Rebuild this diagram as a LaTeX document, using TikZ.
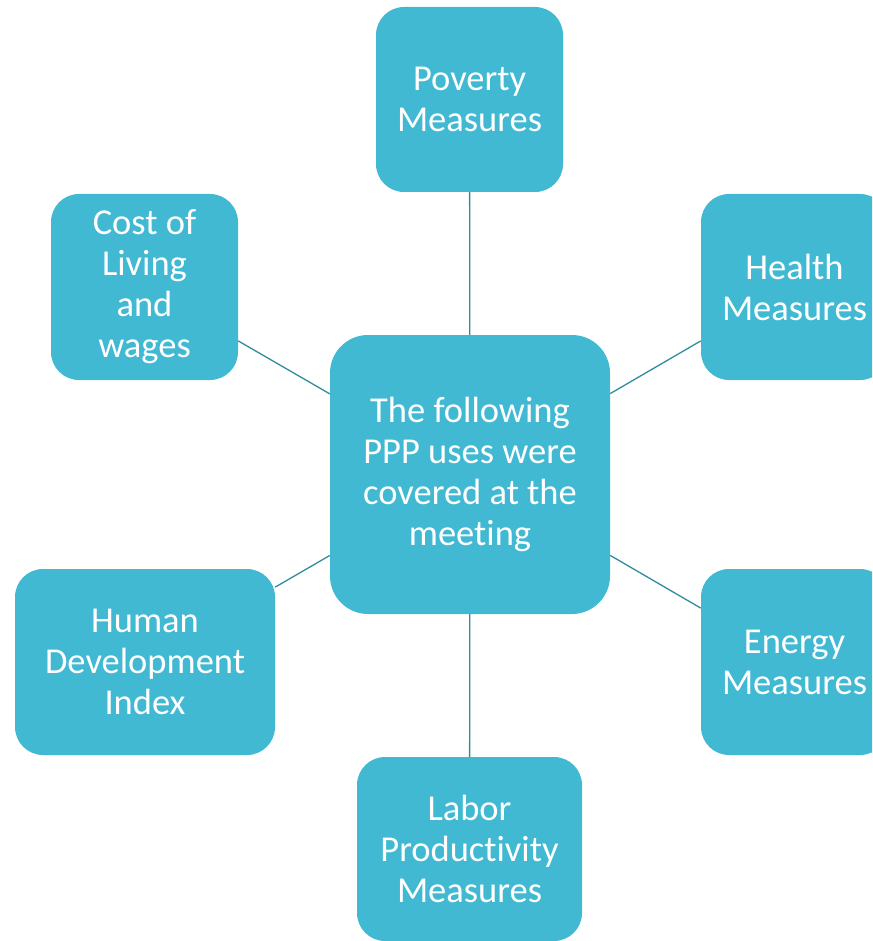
\documentclass[tikz,border=0pt]{standalone}
\usepackage{fontspec}
\setmainfont{Carlito}[Ligatures=NoCommon]
\definecolor{boxfill}{HTML}{41B9D3}
\definecolor{linkcol}{HTML}{2E8C9C}
\begin{document}
\begin{tikzpicture}[x=1pt,y=-1pt,
  box/.style={draw=none,fill=boxfill,rounded corners=28pt,text=white,align=center,
    inner sep=0pt,font=\fontsize{36.5}{41}\selectfont},
  link/.style={draw=linkcol,line width=1.3pt}]
\useasboundingbox (0,0) rectangle (872,941);
\clip (0,0) rectangle (872,941);
\node[box,minimum width=187pt,minimum height=185pt] (pov) at (469.5,99.5) {Poverty\\Measures};
\node[box,minimum width=187pt,minimum height=186pt] (health) at (794.5,287) {Health\\Measures};
\node[box,minimum width=187pt,minimum height=186pt] (cost) at (144.5,287) {Cost of\\Living\\and\\wages};
\node[box,minimum width=280pt,minimum height=279pt,rounded corners=38pt] (ctr) at (470,474.5) {The following\\PPP uses were\\covered at the\\meeting};
\node[box,minimum width=260pt,minimum height=186pt] (hdi) at (145,662) {Human\\Development\\Index};
\node[box,minimum width=187pt,minimum height=186pt] (energy) at (794.5,662) {Energy\\Measures};
\node[box,minimum width=225pt,minimum height=184pt] (labor) at (469.5,849) {Labor\\Productivity\\Measures};
\draw[link] (ctr) -- (pov);
\draw[link] (ctr) -- (health);
\draw[link] (ctr) -- (cost);
\draw[link] (ctr) -- (hdi);
\draw[link] (ctr) -- (energy);
\draw[link] (ctr) -- (labor);
\end{tikzpicture}
\end{document}
